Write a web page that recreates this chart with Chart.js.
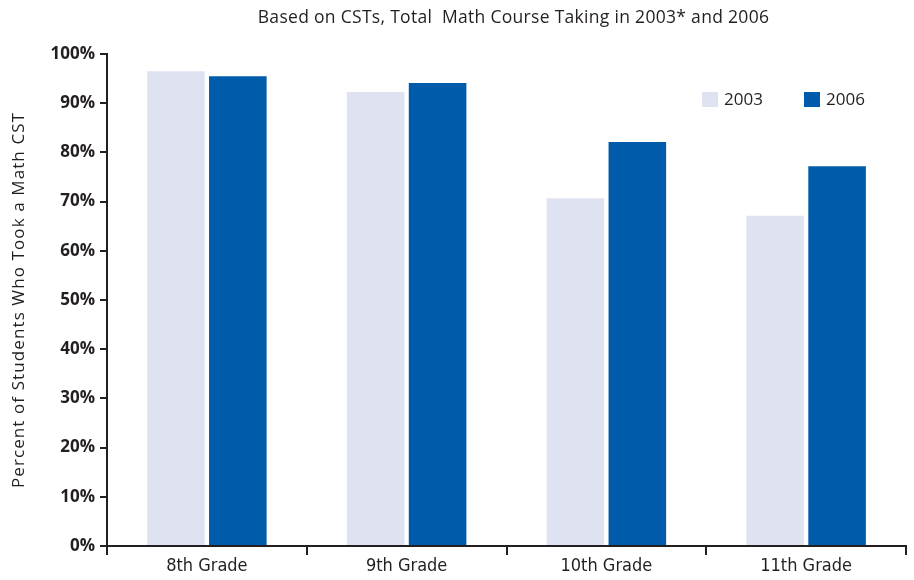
<!DOCTYPE html>
<html>
<head>
<meta charset="utf-8">
<script src="https://cdn.jsdelivr.net/npm/chart.js@4"></script>
<style>
  body { margin: 0; background: #fff; }
  #wrap { width: 914px; height: 580px; }
</style>
</head>
<body>
<div id="wrap"><canvas id="chart"></canvas></div>
<script>
const grades = ['8th Grade', '9th Grade', '10th Grade', '11th Grade'];
const years = ['2003', '2006'];
const pct2003 = [96.5, 92.3, 70.7, 67.1];
const pct2006 = [95.5, 94.1, 82.1, 77.2];
const yTicks = [0, 10, 20, 30, 40, 50, 60, 70, 80, 90, 100];

const chartTitle = 'Based on CSTs, Total  Math Course Taking in 2003* and 2006';
const yTitle = 'Percent of Students Who Took a Math CST';

const ink = '#231f20';
const face = '"Open Sans", "Lato", sans-serif';

// title centred over the plot, rotated axis title, and the legend
const extras = {
    id: 'extras',
    afterDraw(chart) {
        const ctx = chart.ctx;
        const area = chart.chartArea;
        ctx.save();
        ctx.fillStyle = ink;
        ctx.textAlign = 'center';
        ctx.textBaseline = 'middle';
        ctx.font = '17.5px ' + face;
        ctx.letterSpacing = '0.3px';
        ctx.fillText(chartTitle, (area.left + area.right) / 2 + 7, 18);

        ctx.save();
        ctx.translate(19, (area.top + area.bottom) / 2);
        ctx.rotate(-Math.PI / 2);
        ctx.font = '17px ' + face;
        ctx.letterSpacing = '1.1px';
        ctx.fillText(yTitle, 0, 0);
        ctx.restore();

        const spots = [702, 804];
        ctx.textAlign = 'left';
        ctx.letterSpacing = '0px';
        ctx.font = '17px ' + face;
        chart.data.datasets.forEach((ds, i) => {
            ctx.fillStyle = ds.backgroundColor;
            ctx.fillRect(spots[i], 92, 16, 15);
            ctx.fillStyle = ink;
            ctx.fillText(ds.label, spots[i] + 22, 100);
        });
        ctx.restore();
    }
};

new Chart(document.getElementById('chart'), {
    type: 'bar',
    data: {
        labels: grades,
        datasets: [
            {
                label: years[0],
                data: pct2003,
                backgroundColor: '#dfe2f1',
                categoryPercentage: 0.62,
                barPercentage: 0.93
            }, {
                label: years[1],
                data: pct2006,
                backgroundColor: '#005caa',
                categoryPercentage: 0.62,
                barPercentage: 0.93
            }
        ]
    },
    options: {
        responsive: true,
        maintainAspectRatio: false,
        animation: false,
        layout: {
            padding: { left: 6, right: 8, top: 54, bottom: 4 }
        },
        plugins: {
            legend: { display: false },
            tooltip: { enabled: false }
        },
        scales: {
            x: {
                offset: true,
                border: { display: true, color: ink, width: 2 },
                grid: {
                    display: true,
                    offset: true,
                    drawOnChartArea: false,
                    drawTicks: true,
                    tickLength: 9,
                    color: ink,
                    lineWidth: 2
                },
                ticks: {
                    color: ink,
                    padding: 1,
                    font: { family: '"Liberation Sans Narrow", "DejaVu Sans Condensed", sans-serif', size: 18 }
                },
                afterFit: (s) => { s.height = 30; }
            },
            y: {
                min: 0,
                max: 100,
                afterBuildTicks: (s) => { s.ticks = yTicks.map(v => ({ value: v })); },
                border: { display: true, color: ink, width: 2 },
                grid: {
                    display: true,
                    drawOnChartArea: false,
                    drawTicks: true,
                    tickLength: 7,
                    color: ink,
                    lineWidth: 2
                },
                ticks: {
                    color: ink,
                    padding: 5,
                    callback: (v) => v + '%',
                    font: { family: face, size: 17, weight: 'bold' }
                },
                afterFit: (s) => { s.width = 101; }
            }
        }
    },
    plugins: [extras]
});
</script>
</body>
</html>
